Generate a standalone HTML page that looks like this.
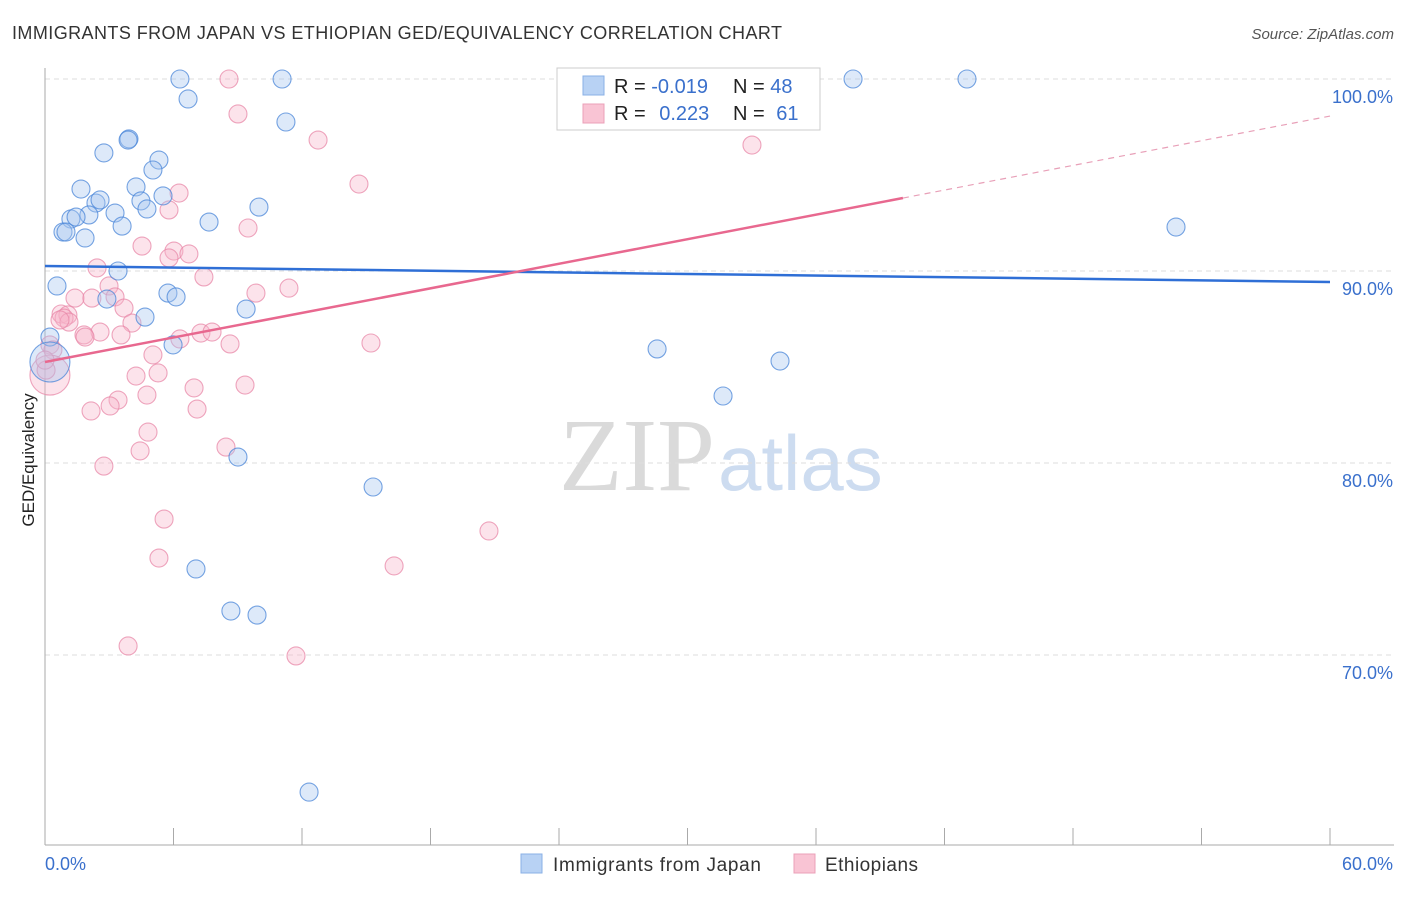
<!DOCTYPE html>
<html><head><meta charset="utf-8">
<style>
body{margin:0;background:#fff;font-family:"Liberation Sans",sans-serif;}
svg text{font-family:"Liberation Sans",sans-serif;}
</style></head>
<body>
<svg id="chart" width="1406" height="892" viewBox="0 0 1406 892">
<text x="12" y="39" font-size="18" fill="#333" textLength="770">IMMIGRANTS FROM JAPAN VS ETHIOPIAN GED/EQUIVALENCY CORRELATION CHART</text>
<text x="1394" y="39" font-size="15" fill="#555" font-style="italic" text-anchor="end">Source: ZipAtlas.com</text>
<text x="715" y="490" font-size="104" fill="#dadada" text-anchor="end" style="font-family:'Liberation Serif',serif">ZIP</text>
<text x="718" y="490" font-size="78" fill="#cddcf0">atlas</text>
<g id="grid"></g>
<g id="axes"></g>
<g id="marks"></g>
<text x="34" y="460" font-size="17" fill="#222" text-anchor="middle" transform="rotate(-90 34 460)">GED/Equivalency</text>
<g>
<rect x="557" y="68" width="263" height="62" fill="#fff" stroke="#ccc"/>
<rect x="583" y="76" width="21" height="19" fill="#b8d2f4" stroke="#8ab0e6"/>
<rect x="583" y="104" width="21" height="19" fill="#f9c4d4" stroke="#eba0b8"/>
<text x="614" y="93" font-size="20" fill="#222">R = <tspan fill="#3a70cc">-0.019</tspan></text>
<text x="733" y="93" font-size="20" fill="#222">N = <tspan fill="#3a70cc">48</tspan></text>
<text x="614" y="120" font-size="20" fill="#222">R = <tspan fill="#3a70cc" dx="8">0.223</tspan></text>
<text x="733" y="120" font-size="20" fill="#222">N = <tspan fill="#3a70cc" dx="6">61</tspan></text>
</g>
<g>
<rect x="521" y="854" width="21" height="19" fill="#b8d2f4" stroke="#8ab0e6"/>
<text x="553" y="871" font-size="19" fill="#333" textLength="208">Immigrants from Japan</text>
<rect x="794" y="854" width="21" height="19" fill="#f9c4d4" stroke="#eba0b8"/>
<text x="825" y="871" font-size="19" fill="#333" textLength="93">Ethiopians</text>
</g>
</svg>
<script>
const xTicks=[0,6,12,18,24,30,36,42,48,54,60];
const yTicks=[70,80,90,100];
const yTickLabels=["70.0%","80.0%","90.0%","100.0%"];
const xEndLabels=["0.0%","60.0%"];
const japanX=[6.30,11.07,37.73,43.05,6.68,11.25,3.92,3.88,2.75,5.32,5.04,1.68,4.25,5.51,4.48,2.38,2.57,4.76,9.99,3.27,2.05,1.21,1.45,7.66,3.60,0.84,0.98,1.87,52.81,3.41,0.56,2.89,5.74,6.12,9.39,4.67,5.98,28.58,34.32,31.66,0.23,0.23,9.01,15.32,7.05,8.68,9.90,12.33];
const japanY=[100,100,100,100,98.96,97.76,96.88,96.82,96.15,95.78,95.26,94.27,94.38,93.91,93.65,93.54,93.70,93.23,93.33,93.02,92.92,92.71,92.81,92.55,92.34,92.03,92.03,91.72,92.29,90.00,89.22,88.54,88.85,88.65,88.02,87.60,86.15,85.94,85.31,83.49,86.56,85.26,80.31,78.75,74.48,72.29,72.08,62.86];
const japanBig=[0,0,0,0,0,0,0,0,0,0,0,0,0,0,0,0,0,0,0,0,0,0,0,0,0,0,0,0,0,0,0,0,0,0,0,0,0,0,0,0,0,1,0,0,0,0,0,0];
const ethX=[8.59,9.01,12.75,33.01,14.66,6.26,5.79,9.48,4.53,6.02,6.72,5.79,2.43,7.42,2.99,9.85,11.39,1.40,2.19,3.27,3.69,0.75,1.07,0.89,1.12,4.06,2.57,1.82,1.87,3.55,7.28,7.80,6.30,8.64,15.22,0.23,0.37,0.23,5.04,5.28,4.25,9.34,6.96,4.76,3.41,3.04,7.10,2.15,4.81,4.44,8.45,2.75,5.56,20.73,5.32,16.30,3.88,11.72,0.70,0.05,0.00];
const ethY=[100,98.18,96.82,96.56,94.53,94.06,93.18,92.24,91.30,91.04,90.89,90.68,90.16,89.69,89.22,88.85,89.11,88.59,88.59,88.65,88.07,87.76,87.71,87.55,87.34,87.29,86.82,86.67,86.56,86.67,86.77,86.82,86.46,86.20,86.25,86.15,85.89,84.58,85.63,84.69,84.53,84.06,83.91,83.54,83.28,82.97,82.81,82.71,81.61,80.63,80.83,79.84,77.08,76.46,75.05,74.64,70.47,69.95,87.45,84.84,85.36];
const japanTrend=[90.26,89.43];
const ethTrend=[85.26,93.80,98.07];
const ethTrendX=[0,40.06,60];

const X0=45,X1=1330,Y100=79,PXPCT=19.2;
const sx=v=>X0+(v/60)*(X1-X0);
const sy=v=>Y100+(100-v)*PXPCT;
const NS="http://www.w3.org/2000/svg";
function mk(tag,attrs,parent){const e=document.createElementNS(NS,tag);for(const k in attrs)e.setAttribute(k,attrs[k]);parent.appendChild(e);return e;}
const grid=document.getElementById('grid'),axes=document.getElementById('axes'),marks=document.getElementById('marks');
yTicks.forEach((t,i)=>{
 const g=mk('line',{x1:X0,x2:1394,y1:sy(t),y2:sy(t),stroke:'#ddd','stroke-dasharray':'5,4'},grid);
 
 
 const l=mk('text',{x:1393,y:sy(t)+24,'font-size':18,fill:'#3a70cc','text-anchor':'end'},axes);
 l.textContent=yTickLabels[i];
 
 
});
const ax=mk('line',{x1:X0,x2:X0,y1:68,y2:845,stroke:'#aaa'},axes);


const bx=mk('line',{x1:X0,x2:1394,y1:845,y2:845,stroke:'#aaa'},axes);


xTicks.forEach(t=>{
 const tk=mk('line',{x1:sx(t),x2:sx(t),y1:828,y2:845,stroke:'#aaa'},axes);
 
 
});
const xl0=mk('text',{x:45,y:870,'font-size':18,fill:'#3a70cc'},axes);xl0.textContent=xEndLabels[0];


const xl1=mk('text',{x:1393,y:870,'font-size':18,fill:'#3a70cc','text-anchor':'end'},axes);xl1.textContent=xEndLabels[1];



function dots(xs,ys,big,fill,stroke,name){
 xs.forEach((x,i)=>{
  const c=mk('circle',{cx:sx(x),cy:sy(ys[i]),r:(big&&big[i])?20:9,fill:fill,'fill-opacity':0.38,stroke:stroke,'stroke-opacity':0.75,'stroke-width':1.1},marks);
  
  
 });
}
dots(ethX,ethY,ethX.map((x,i)=>i===37?1:0),'#f7b6ca','#e888a8','point-ethiopians');
dots(japanX,japanY,japanBig,'#a6c6f0','#4a86d8','point-japan');

const bl=mk('line',{x1:sx(0),y1:sy(japanTrend[0]),x2:sx(60),y2:sy(japanTrend[1]),stroke:'#2f6fd6','stroke-width':2.5},marks);


const pl=mk('line',{x1:sx(ethTrendX[0]),y1:sy(ethTrend[0]),x2:sx(ethTrendX[1]),y2:sy(ethTrend[1]),stroke:'#e8688f','stroke-width':2.5},marks);


const pd=mk('line',{x1:sx(ethTrendX[1]),y1:sy(ethTrend[1]),x2:sx(ethTrendX[2]),y2:sy(ethTrend[2]),stroke:'#e8a0b8','stroke-width':1.2,'stroke-dasharray':'6,5'},marks);


</script>
</body></html>
